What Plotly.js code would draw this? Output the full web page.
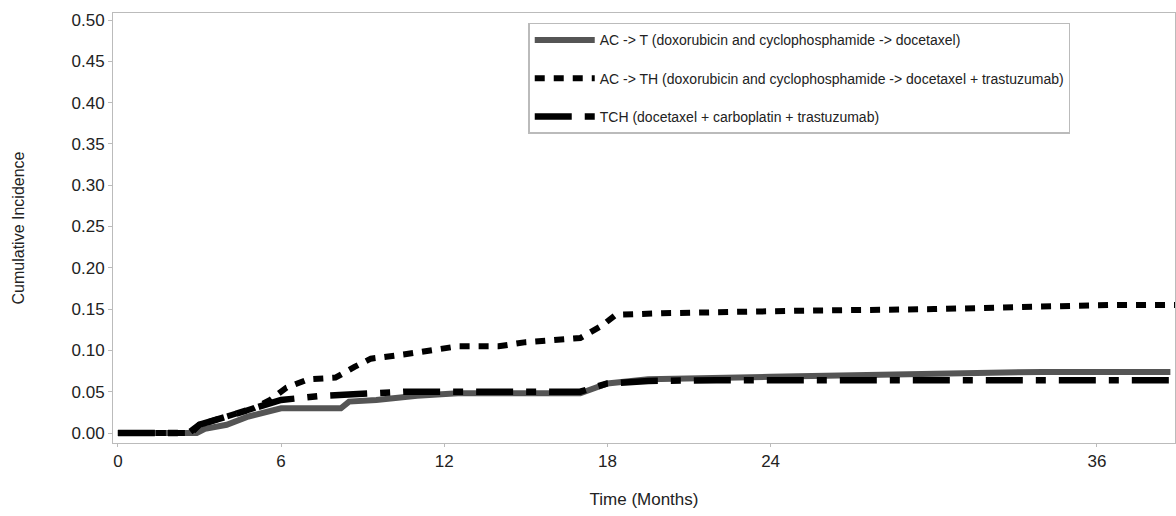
<!DOCTYPE html>
<html><head><meta charset="utf-8">
<script src="https://cdn.plot.ly/plotly-3.0.1.min.js"></script>
<style>body{margin:0;background:#fff}</style>
</head><body>
<div id="plot" style="width:1176px;height:516px"></div>
<script>
// months and cumulative incidence
var tX = [0, 2.9, 3.2, 4, 4.8, 5.5, 6, 8.2, 8.5, 9.5, 11, 12.5, 17, 18, 19.5, 24, 27, 30, 34, 38.7];
var tY = [0, 0, 0.005, 0.01, 0.02, 0.025, 0.03, 0.03, 0.038, 0.04, 0.045, 0.048, 0.048, 0.06, 0.065, 0.068, 0.07, 0.072, 0.074, 0.074];

var thX = [0, 2.7, 3, 4, 5, 5.6, 6.2, 7, 8, 8.7, 9.3, 10.5, 11.5, 12.5, 14, 15, 17, 17.8, 18.3, 20, 25, 30, 36.5, 38.9];
var thY = [0, 0, 0.01, 0.02, 0.03, 0.04, 0.055, 0.065, 0.067, 0.08, 0.09, 0.095, 0.1, 0.105, 0.105, 0.11, 0.115, 0.13, 0.143, 0.145, 0.148, 0.15, 0.155, 0.155];

var tchX = [0, 2.6, 3, 3.5, 4.2, 5, 5.5, 6, 7.5, 9.5, 10.5, 17, 17.5, 18, 19.5, 22, 38.9];
var tchY = [0, 0, 0.01, 0.015, 0.02, 0.03, 0.035, 0.04, 0.045, 0.048, 0.05, 0.05, 0.055, 0.06, 0.063, 0.064, 0.064];

var names = [
  'AC -> T (doxorubicin and cyclophosphamide -> docetaxel)',
  'AC -> TH (doxorubicin and cyclophosphamide -> docetaxel + trastuzumab)',
  'TCH (docetaxel + carboplatin + trastuzumab)'
];

var data = [
  {x: tX, y: tY, name: names[0], legendgroup: 'a', mode: 'lines', line: {color: '#555', width: 6}},
  {x: thX, y: thY, name: names[1], legendgroup: 'b', mode: 'lines', line: {color: '#000', width: 6, dash: '10px,9px'}},
  {x: tchX, y: tchY, name: names[2], legendgroup: 'c', mode: 'lines', line: {color: '#000', width: 6.5, dash: '37px,13px,10px,13px'}}
];

var layout = {
  width: 1176, height: 516,
  margin: {t: 13, r: 1, b: 73, l: 113},
  font: {family: 'Liberation Sans, Arial', size: 17, color: '#222'},
  showlegend: true,
  legend: {x: 0.391, y: 0.977, xanchor: 'left', yanchor: 'top', bordercolor: '#bbb', borderwidth: 1.5,
           font: {size: 14}, tracegroupgap: 17, itemwidth: 60},
  xaxis: {range: [-0.18, 38.87], tickvals: [0, 6, 12, 18, 24, 36], showgrid: false, zeroline: false,
          showline: true, mirror: true, linecolor: '#bbb', ticks: 'outside', ticklen: 3, tickcolor: '#bbb',
          title: {text: 'Time (Months)', font: {size: 17}, standoff: 22}},
  yaxis: {range: [-0.0121, 0.5085], tickvals: [0,0.05,0.1,0.15,0.2,0.25,0.3,0.35,0.4,0.45,0.5], tickformat: '.2f',
          showgrid: false, zeroline: false, showline: true, mirror: true, linecolor: '#bbb',
          ticks: 'outside', ticklen: 4, tickcolor: '#bbb',
          title: {text: 'Cumulative Incidence', font: {size: 16}, standoff: 42}},
  plot_bgcolor: '#fff', paper_bgcolor: '#fff'
};
Plotly.newPlot('plot', data, layout, {displayModeBar: false});
</script>
</body></html>
